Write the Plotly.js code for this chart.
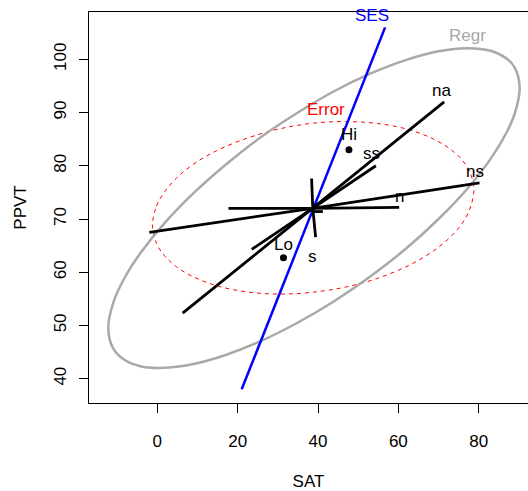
<!DOCTYPE html>
<html>
<head>
<meta charset="utf-8">
<script src="https://cdn.plot.ly/plotly-3.0.1.min.js"></script>
<style>
html, body { margin:0; padding:0; background:#fff; overflow:hidden; }
#chart { width:528px; height:491px; }
</style>
</head>
<body>
<div id="chart"></div>
<script>
// ---- data ----
// Error ellipse (points traced around the red dashed curve)
const errorX = [-1.2, -0.2, 1.8, 4.8, 8.8, 14.8, 22.8, 30.8, 38.8, 46.8, 54.8, 62.8, 68.8, 72.8, 75.8, 77.8, 78.8, 77.8, 75.8, 72.8, 68.8, 62.8, 54.8, 46.8, 38.8, 30.8, 22.8, 14.8, 8.8, 4.8, 1.8, -0.2, -1.2];
const errorY = [68.85, 72.45, 75.1, 77.7, 80.2, 82.85, 85.3, 87.0, 88.0, 88.3, 87.95, 86.75, 85.0, 83.2, 81.15, 78.8, 75.6, 71.9, 69.1, 66.5, 64.05, 61.35, 58.85, 57.2, 56.25, 55.9, 56.25, 57.45, 59.2, 61.0, 63.1, 65.4, 68.85];
// Regr ellipse (gray)
const regrX = [-12.2, -11, -8, -4, 2, 9, 17, 26, 35, 44, 53, 62, 70, 77, 83, 87, 89, 90.2, 89, 87, 83, 77, 70, 62, 53, 44, 35, 26, 17, 9, 2, -4, -8, -11, -12.2];
const regrY = [49.45, 54.2, 59.15, 63.8, 69.4, 74.85, 80.2, 85.5, 90.0, 94.0, 97.3, 99.9, 101.5, 102.1, 101.6, 100.1, 98.4, 94.65, 89.9, 86.35, 81.35, 75.55, 70.0, 64.5, 59.2, 54.55, 50.55, 47.15, 44.45, 42.75, 42.05, 42.3, 43.45, 45.7, 49.45];
// SES (1 df, degenerate ellipse -> line)
const sesX = [21.0, 38.8, 56.7];
const sesY = [38.0, 72.0, 106.0];
// predictor lines
const nX  = [17.7, 38.6, 60.2];   const nY  = [72.0, 72.0, 72.2];
const sX  = [38.4, 38.7, 39.4, null, 38.6, 41.2]; const sY = [77.6, 72.0, 66.6, null, 71.4, 71.4];
const nsX = [-2.0, 38.6, 80.2];   const nsY = [67.5, 72.0, 76.8];
const naX = [6.3, 38.6, 71.4];    const naY = [52.3, 72.0, 92.0];
const ssX = [23.5, 38.6, 54.4];   const ssY = [64.3, 72.0, 80.0];
// SES group means
const groupNames = ["Hi", "Lo"];
const groupX = [47.7, 31.4];
const groupY = [83.0, 62.7];
const groupLabelY = [85.8, 65.2];
// ellipse labels
const labelText = ["SES", "Regr", "Error", "na", "ss", "ns", "n", "s"];
const labelX = [53.4, 77.2, 42.0, 70.8, 53.4, 79.1, 60.4, 38.7];
const labelY = [108.3, 104.55, 90.5, 94.1, 82.3, 78.9, 74.2, 62.9];
const xTicks = [0, 20, 40, 60, 80];
const yTicks = [40, 50, 60, 70, 80, 90, 100];

// ---- styling ----
const FONT = "Liberation Sans, Arial, Helvetica, sans-serif";
const labelColors = {"SES": "#0000FF", "Regr": "#A9A9A9", "Error": "#FF0000"};

function line(x, y, color, width, dash) {
  return {x: x, y: y, type: "scatter", mode: "lines", hoverinfo: "skip",
          line: {color: color, width: width, dash: dash || "solid"}, connectgaps: false, showlegend: false};
}
function smooth(x, y, color, width, dash) {
  const t = line(x, y, color, width, dash);
  t.line.shape = "spline";
  t.line.smoothing = 1;
  return t;
}

const traces = [
  smooth(errorX, errorY, "#FF0000", 1, "4px,4px"),
  smooth(regrX, regrY, "#A9A9A9", 2.5),
  line(sesX, sesY, "#0000FF", 2.5),
  line(nX, nY, "#000000", 2.8),
  line(sX, sY, "#000000", 2.8),
  line(nsX, nsY, "#000000", 2.8),
  line(naX, naY, "#000000", 2.8),
  line(ssX, ssY, "#000000", 2.8),
  {x: groupX, y: groupY, type: "scatter", mode: "markers", showlegend: false, hoverinfo: "skip",
   marker: {color: "#000000", size: 7}}
];

const annotations = [];
labelText.forEach((t, i) => {
  annotations.push({x: labelX[i], y: labelY[i], xref: "x", yref: "y", text: t, showarrow: false,
    xanchor: "center", yanchor: "middle", font: {family: FONT, size: 17, color: labelColors[t] || "#000000"}});
});
groupNames.forEach((t, i) => {
  annotations.push({x: groupX[i], y: groupLabelY[i], xref: "x", yref: "y", text: t, showarrow: false,
    xanchor: "center", yanchor: "middle", font: {family: FONT, size: 17, color: "#000000"}});
});

const layout = {
  width: 528, height: 491,
  margin: {l: 89, r: 0, t: 12, b: 88},
  paper_bgcolor: "#ffffff", plot_bgcolor: "#ffffff",
  font: {family: FONT, size: 17, color: "#000000"},
  showlegend: false,
  xaxis: {range: [-17.01, 92.27], tickvals: xTicks, ticktext: xTicks.map(String),
          ticks: "outside", ticklen: 9, tickwidth: 1, tickcolor: "#000000",
          showline: true, linecolor: "#000000", linewidth: 1, mirror: true,
          showgrid: false, zeroline: false, automargin: false, ticklabelstandoff: 14,
          tickfont: {family: FONT, size: 17, color: "#000000"},
          title: {text: "SAT", font: {family: FONT, size: 17, color: "#000000"}, standoff: 26}},
  yaxis: {range: [35.43, 108.89], tickvals: yTicks, ticktext: yTicks.map(String), tickangle: -90,
          ticks: "outside", ticklen: 9, tickwidth: 1, tickcolor: "#000000",
          showline: true, linecolor: "#000000", linewidth: 1, mirror: false,
          showgrid: false, zeroline: false, automargin: false, ticklabelstandoff: 6,
          tickfont: {family: FONT, size: 17, color: "#000000"},
          title: {text: "PPVT", font: {family: FONT, size: 17, color: "#000000"}, standoff: 20}},
  annotations: annotations
};

Plotly.newPlot("chart", traces, layout, {staticPlot: true, displayModeBar: false});
</script>
</body>
</html>
